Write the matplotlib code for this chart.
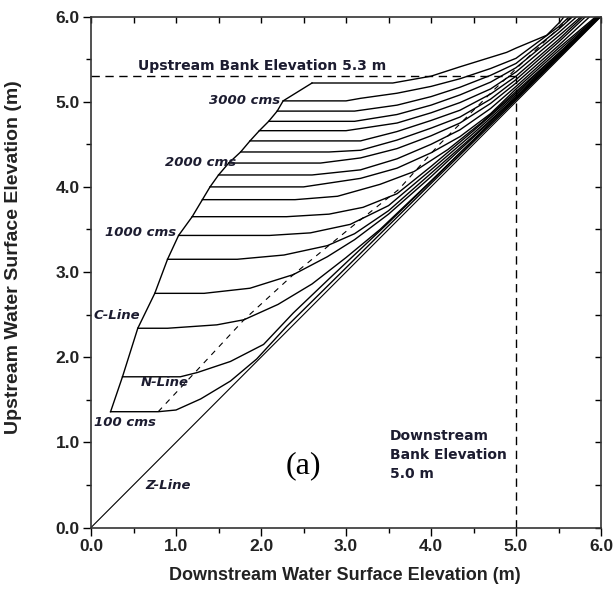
import matplotlib
matplotlib.use("Agg")
import matplotlib.pyplot as plt
from matplotlib.ticker import MultipleLocator

# upstream level of each flow curve (flat part), and where it meets the C-line
levels = [1.36, 1.77, 2.34, 2.75, 3.15, 3.43, 3.65, 3.85, 4.00, 4.14,
          4.28, 4.41, 4.54, 4.66, 4.77, 4.89, 5.01, 5.22]
cline_x = [0.23, 0.37, 0.55, 0.75, 0.90, 1.03, 1.19, 1.31, 1.40, 1.50,
           1.62, 1.76, 1.87, 1.98, 2.09, 2.19, 2.26, 2.60]

# rest of each curve (downstream x, upstream y) after the flat part
rise_x = [
    [0.79, 1.00, 1.29, 1.64, 1.95, 2.30, 3.00, 4.00, 5.00, 6.00],
    [1.05, 1.25, 1.64, 2.03, 2.38, 2.80, 3.50, 4.50, 5.50, 6.00],
    [0.90, 1.48, 1.80, 2.20, 2.60, 3.00, 3.40, 4.00, 5.00, 6.00],
    [1.33, 1.87, 2.38, 2.78, 3.10, 3.50, 4.00, 5.00, 6.00],
    [1.72, 2.27, 2.78, 3.10, 3.50, 4.00, 4.50, 5.00, 6.00],
    [2.10, 2.58, 3.05, 3.50, 4.00, 4.50, 5.00, 6.00],
    [2.30, 2.80, 3.20, 3.60, 4.00, 4.50, 5.00, 6.00],
    [2.40, 2.90, 3.40, 3.80, 4.20, 4.60, 5.00, 5.50, 6.00],
    [2.50, 3.17, 3.60, 4.00, 4.34, 4.70, 5.00, 5.50, 6.00],
    [2.60, 3.17, 3.60, 4.00, 4.34, 4.70, 5.00, 5.50, 6.00],
    [2.70, 3.17, 3.60, 4.00, 4.34, 4.70, 5.00, 5.50, 5.90],
    [2.80, 3.17, 3.60, 4.00, 4.34, 4.70, 5.00, 5.50, 5.85],
    [2.90, 3.17, 3.60, 4.00, 4.34, 4.70, 5.00, 5.50, 5.82],
    [3.00, 3.60, 4.00, 4.34, 4.70, 5.00, 5.50, 5.80],
    [3.10, 3.60, 4.00, 4.34, 4.70, 5.00, 5.50, 5.75],
    [3.10, 3.60, 4.00, 4.34, 4.70, 5.00, 5.50, 5.70],
    [3.00, 3.17, 3.60, 4.00, 4.34, 4.70, 5.00, 5.50, 5.66],
    [3.55, 4.00, 4.34, 4.89, 5.00, 5.36, 5.52, 5.58],
]
rise_y = [
    [1.36, 1.38, 1.51, 1.72, 1.98, 2.36, 3.05, 4.04, 5.02, 6.01],
    [1.77, 1.82, 1.95, 2.15, 2.52, 2.92, 3.58, 4.55, 5.53, 6.02],
    [2.34, 2.38, 2.44, 2.62, 2.86, 3.17, 3.50, 4.07, 5.04, 6.01],
    [2.75, 2.81, 2.97, 3.18, 3.38, 3.68, 4.12, 5.05, 6.02],
    [3.15, 3.20, 3.31, 3.45, 3.72, 4.16, 4.60, 5.06, 6.02],
    [3.43, 3.46, 3.56, 3.78, 4.20, 4.63, 5.08, 6.02],
    [3.65, 3.68, 3.76, 3.92, 4.24, 4.66, 5.10, 6.03],
    [3.85, 3.89, 4.03, 4.18, 4.44, 4.76, 5.12, 5.57, 6.03],
    [4.00, 4.10, 4.22, 4.40, 4.59, 4.86, 5.15, 5.60, 6.04],
    [4.14, 4.20, 4.33, 4.50, 4.67, 4.92, 5.18, 5.63, 6.05],
    [4.28, 4.34, 4.45, 4.60, 4.75, 4.98, 5.22, 5.66, 6.03],
    [4.41, 4.43, 4.55, 4.69, 4.82, 5.03, 5.26, 5.70, 6.03],
    [4.54, 4.54, 4.65, 4.78, 4.90, 5.09, 5.30, 5.73, 6.03],
    [4.66, 4.75, 4.87, 4.99, 5.15, 5.35, 5.77, 6.03],
    [4.77, 4.85, 4.96, 5.08, 5.23, 5.40, 5.81, 6.03],
    [4.89, 4.96, 5.06, 5.17, 5.31, 5.45, 5.85, 6.03],
    [5.01, 5.04, 5.10, 5.18, 5.27, 5.39, 5.51, 5.88, 6.03],
    [5.22, 5.30, 5.41, 5.58, 5.63, 5.78, 5.94, 6.02],
]

# dashed line through the knees of the curves
knee_x = [0.79, 1.25, 1.80, 2.38, 3.09, 3.62, 4.07, 4.73, 5.35, 5.65]
knee_y = [1.36, 1.85, 2.44, 2.97, 3.55, 3.97, 4.47, 5.13, 5.72, 6.00]

bank_up = 5.3
bank_down = 5.0

plt.rcParams["font.family"] = ["Liberation Sans", "DejaVu Sans"]

fig = plt.figure(figsize=(6.13, 5.90), dpi=100)
ax = fig.add_axes([0.1485, 0.1059, 0.832, 0.866])

# Z-line
ax.plot([0, 6], [0, 6], color="black", lw=0.8)

# flow curves
for h, xc, rx, ry in zip(levels, cline_x, rise_x, rise_y):
    ax.plot([xc] + rx, [h] + ry, color="black", lw=1.0)

# C-line
ax.plot(cline_x, levels, color="black", lw=1.0)

# knee line
ax.plot(knee_x, knee_y, color="black", lw=0.8, dashes=(5, 5))

# bank elevations
ax.plot([0, bank_down], [bank_up, bank_up], color="black", lw=1.0, dashes=(6, 4))
ax.plot([bank_down, bank_down], [0, bank_up], color="black", lw=1.0, dashes=(6, 4))

ink = "#1c1c30"
lab = dict(fontsize=9.5, fontweight="bold", fontstyle="italic", color=ink,
           family="DejaVu Sans")
ax.text(2.23, 5.02, "3000 cms", ha="right", va="center", **lab)
ax.text(1.71, 4.29, "2000 cms", ha="right", va="center", **lab)
ax.text(1.00, 3.46, "1000 cms", ha="right", va="center", **lab)
ax.text(0.58, 2.49, "C-Line", ha="right", va="center", **lab)
ax.text(0.59, 1.70, "N-Line", ha="left", va="center", **lab)
ax.text(0.03, 1.23, "100 cms", ha="left", va="center", **lab)
ax.text(0.64, 0.49, "Z-Line", ha="left", va="center", **lab)

ax.text(0.55, 5.34, "Upstream Bank Elevation 5.3 m", fontsize=10.1,
        fontweight="bold", color=ink, family="DejaVu Sans",
        ha="left", va="bottom")
ax.text(3.52, 1.16, "Downstream\nBank Elevation\n5.0 m", fontsize=10,
        fontweight="bold", color=ink, family="DejaVu Sans",
        ha="left", va="top", linespacing=1.45)
ax.text(2.50, 0.73, "(a)", fontsize=23, family="Liberation Serif",
        ha="center", va="center")

ax.set_xlim(0, 6)
ax.set_ylim(0, 6)
ax.xaxis.set_major_locator(MultipleLocator(1.0))
ax.yaxis.set_major_locator(MultipleLocator(1.0))
ax.xaxis.set_minor_locator(MultipleLocator(0.5))
ax.yaxis.set_minor_locator(MultipleLocator(0.5))
ax.xaxis.set_major_formatter(plt.FormatStrFormatter("%.1f"))
ax.yaxis.set_major_formatter(plt.FormatStrFormatter("%.1f"))
ax.tick_params(which="major", direction="out", length=6, width=1.0,
               labelsize=12.5, pad=2, labelcolor="#222222")
ax.tick_params(which="minor", direction="out", length=3.5, width=1.0)
ax.tick_params(which="both", top=True, right=True)
for lbl in ax.get_xticklabels() + ax.get_yticklabels():
    lbl.set_fontweight("bold")

# top/right ticks point inward, as in the original
for t in ax.xaxis.get_major_ticks() + ax.xaxis.get_minor_ticks():
    t.tick2line.set_marker(matplotlib.lines.TICKDOWN)
    t.tick2line.set_markersize(4)
for t in ax.yaxis.get_major_ticks() + ax.yaxis.get_minor_ticks():
    t.tick2line.set_marker(matplotlib.lines.TICKLEFT)
    t.tick2line.set_markersize(4)

for s in ax.spines.values():
    s.set_linewidth(1.2)
    s.set_color("#333333")

ax.set_xlabel("Downstream Water Surface Elevation (m)", fontsize=13,
              fontweight="bold", color="#222222")
ax.set_ylabel("Upstream Water Surface Elevation (m)", fontsize=14,
              fontweight="bold", color="#222222")
ax.xaxis.set_label_coords(0.498, -0.077)
ax.yaxis.set_label_coords(-0.135, 0.53)

fig.savefig("out.png", dpi=100)
